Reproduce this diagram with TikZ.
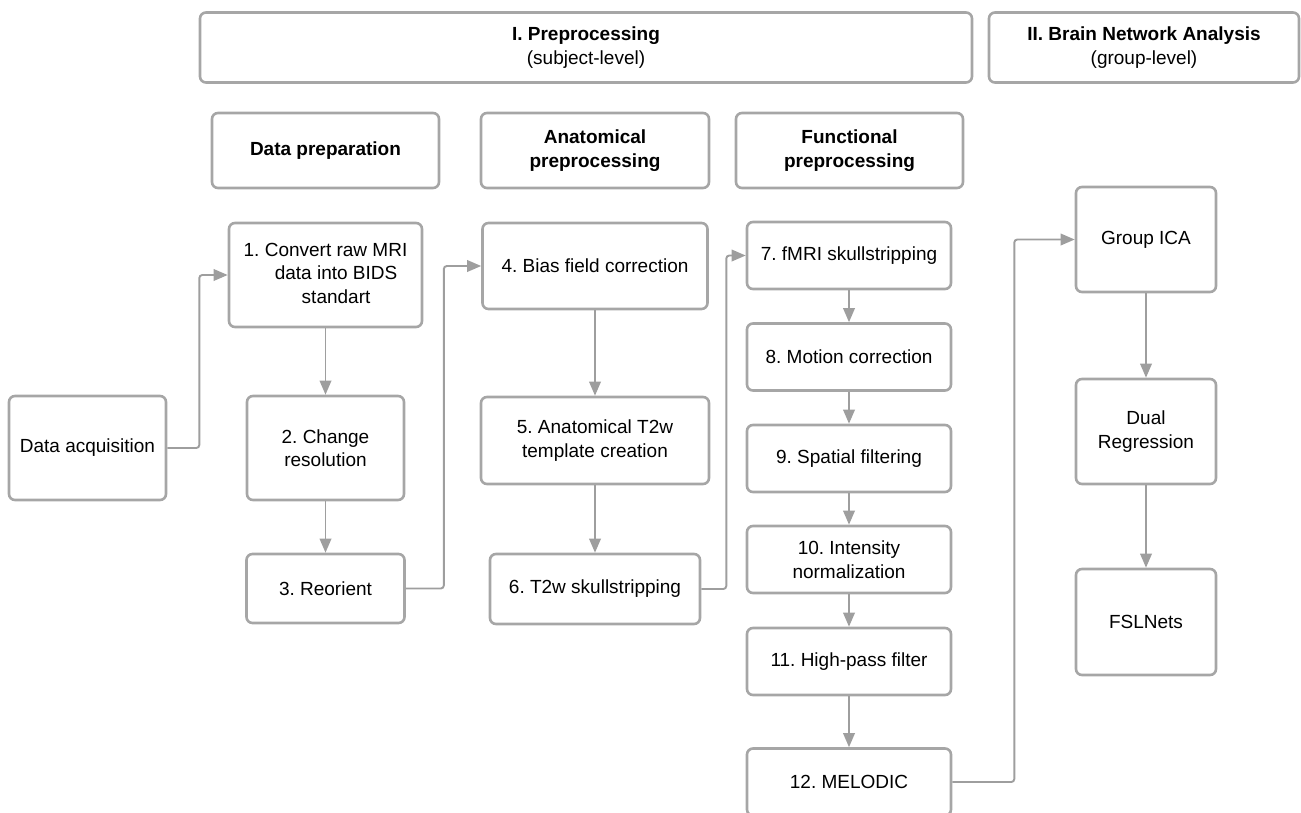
\documentclass[tikz,border=0pt]{standalone}
\usepackage{fontspec}
\setmainfont{Liberation Sans}
\usetikzlibrary{arrows.meta,positioning}
\frenchspacing

\definecolor{boxgray}{RGB}{166,166,166}
\definecolor{linegray}{RGB}{158,158,158}

\tikzset{
  box/.style={draw=boxgray, line width=2.6pt, rounded corners=6pt, align=center,
    inner sep=0pt, font=\fontsize{19}{23.5}\selectfont},
  headbox/.style={box, font=\fontsize{19}{23.5}\selectfont\bfseries},
  flow/.style={draw=linegray, line width=1.9pt, rounded corners=3pt,
    -{Triangle[length=14pt,width=11.5pt]}}
}

\begin{document}
\begin{tikzpicture}[x=1pt,y=-1pt]
  \useasboundingbox (0,0) rectangle (1301,812);

  % Stage titles
  \node[box, minimum width=772pt, minimum height=70pt] (prep) at (586,47.5)
    {\textbf{I. Preprocessing}\\(subject-level)};
  \node[box, minimum width=310pt, minimum height=70pt] (bna) at (1144,47.5)
    {\textbf{II. Brain Network Analysis}\\(group-level)};

  % Column headers
  \node[headbox, minimum width=227pt, minimum height=75pt] (hdata) at (325.5,150.5) {Data preparation};
  \node[headbox, minimum width=228pt, minimum height=75pt] (hanat) at (595,150.5) {Anatomical\\preprocessing};
  \node[headbox, minimum width=227pt, minimum height=75pt] (hfunc) at (849.5,150.5) {Functional\\preprocessing};

  % Data preparation
  \node[box, minimum width=157pt, minimum height=104pt] (acq) at (87.5,448) {Data acquisition};
  \node[box, minimum width=193pt, minimum height=104pt] (s1) at (325.5,275)
    {1.\ \begin{tabular}[t]{@{}c@{}}Convert raw MRI\\data into BIDS\\standart\end{tabular}};
  \node[box, minimum width=157pt, minimum height=104pt] (s2) at (325.5,448) {2. Change\\resolution};
  \node[box, minimum width=158pt, minimum height=69pt] (s3) at (325.5,588.5) {3. Reorient};

  % Anatomical preprocessing
  \node[box, minimum width=225pt, minimum height=86pt] (s4) at (595,266) {4. Bias field correction};
  \node[box, minimum width=228pt, minimum height=87pt] (s5) at (595,440.5) {5. Anatomical T2w\\template creation};
  \node[box, minimum width=210pt, minimum height=70pt] (s6) at (595,589) {6. T2w skullstripping};

  % Functional preprocessing
  \node[box, minimum width=204pt, minimum height=67pt] (s7) at (849,255.5) {7. fMRI skullstripping};
  \node[box, minimum width=204pt, minimum height=67pt] (s8) at (849,357) {8. Motion correction};
  \node[box, minimum width=204pt, minimum height=67pt] (s9) at (849,458.5) {9. Spatial filtering};
  \node[box, minimum width=204pt, minimum height=67pt] (s10) at (849,559.5) {10. Intensity\\normalization};
  \node[box, minimum width=204pt, minimum height=67pt] (s11) at (849,661.5) {11. High-pass filter};
  \node[box, minimum width=204pt, minimum height=67pt] (s12) at (849,782) {12. MELODIC};

  % Brain network analysis
  \node[box, minimum width=140pt, minimum height=105pt] (ica) at (1146,239.5) {Group ICA};
  \node[box, minimum width=140pt, minimum height=105pt] (dual) at (1146,431.5) {Dual\\Regression};
  \node[box, minimum width=140pt, minimum height=106pt] (fsl) at (1146,622) {FSLNets};

  % Flow within columns
  \draw[flow] (s1) -- (s2);
  \draw[flow] (s2) -- (s3);
  \draw[flow] (s4) -- (s5);
  \draw[flow] (s5) -- (s6);
  \foreach \a/\b in {s7/s8,s8/s9,s9/s10,s10/s11,s11/s12}
    \draw[flow] (\a) -- (\b);
  \draw[flow] (ica) -- (dual);
  \draw[flow] (dual) -- (fsl);

  % Flow between columns
  \draw[flow] (acq.east) -- ++(32,0) |- (s1.west);
  \draw[flow] (s3.east) -- ++(38,0) |- (s4.west);
  \draw[flow] (s6.east) -- ++(25,0) |- (s7.west);
  \draw[flow] (s12.east) -- ++(62,0) |- (ica.west);
\end{tikzpicture}
\end{document}
